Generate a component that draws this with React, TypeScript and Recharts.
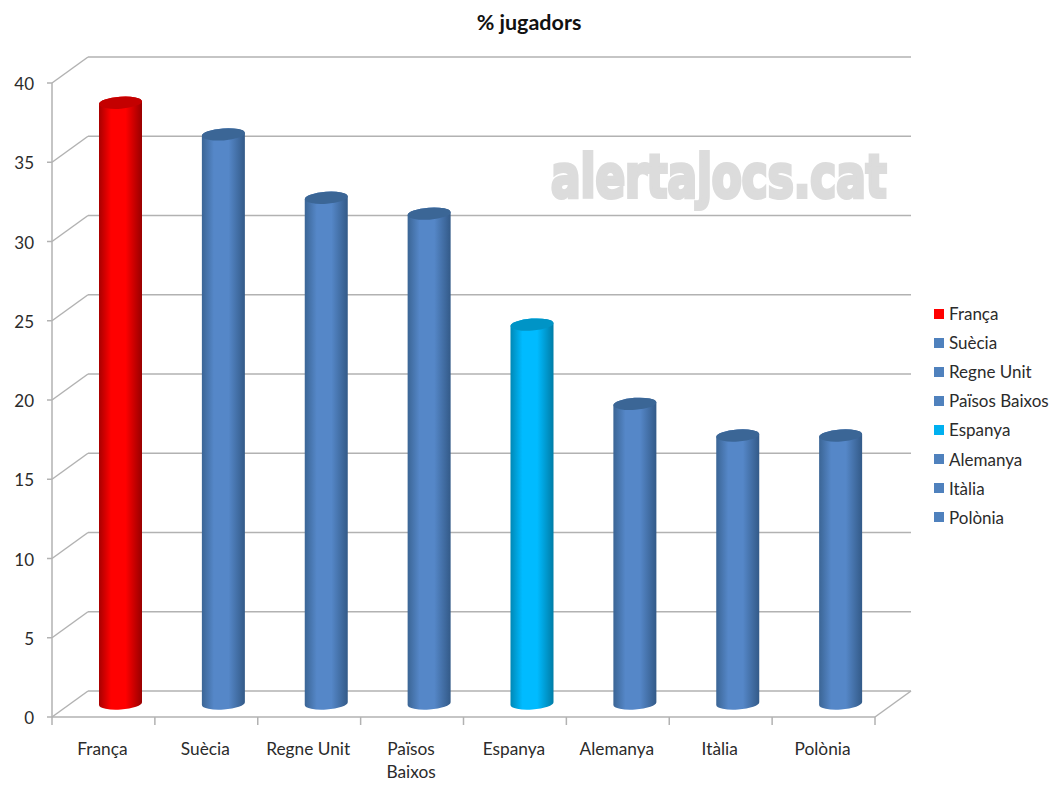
import { BarChart, Bar, XAxis, YAxis, CartesianGrid } from 'recharts'

const categories = ['França', 'Suècia', 'Regne Unit', 'Països Baixos', 'Espanya', 'Alemanya', 'Itàlia', 'Polònia']
const jugadors = [38, 36, 32, 31, 24, 19, 17, 17]
const yTicks = [0, 5, 10, 15, 20, 25, 30, 35, 40]

const chartData = categories.map((name, i) => ({ name, value: jugadors[i] }))

const WIDTH = 1060
const HEIGHT = 795
const PLOT_LEFT = 52
const PLOT_RIGHT = 875
const PLOT_TOP = 83
const PLOT_BOTTOM = 717
const BAND = (PLOT_RIGHT - PLOT_LEFT) / categories.length

// 3d look: back wall offset and bar offset from the front plane
const WALL_DX = 36
const WALL_DY = -26
const BAR_DX = 17
const BAR_DY = -12

const AXIS_COLOR = '#b2b2b2'
const TEXT_COLOR = '#2b2b2b'
const FONT = 'Lato, "Open Sans", sans-serif'

const PALETTES: Record<string, { edgeL: string; edgeR: string; mid: string; cap: string; swatch: string }> = {
  red: { edgeL: '#a80000', edgeR: '#980000', mid: '#ff0000', cap: '#c40000', swatch: '#ff0000' },
  blue: { edgeL: '#3b6595', edgeR: '#335a88', mid: '#5587c8', cap: '#3b6696', swatch: '#4f81bd' },
  cyan: { edgeL: '#0088b6', edgeR: '#007ca6', mid: '#00bbff', cap: '#0094c6', swatch: '#00b0f0' },
}

const paletteFor = (name: string) => {
  if (name === 'França') return 'red'
  if (name === 'Espanya') return 'cyan'
  return 'blue'
}

function CylinderBar(props: any) {
  const { x, y, width, height, index } = props
  const key = paletteFor(categories[index])
  const left = x + BAR_DX
  const right = left + width
  const top = y + BAR_DY
  const bottom = y + height + BAR_DY - 1.5
  const rx = width / 2
  const ry = 6
  const tilt = 1.5
  const body = `M${left},${bottom + tilt} L${left},${top + tilt} A${rx},${ry} -4 0 1 ${right},${top - tilt} L${right},${bottom - tilt} A${rx},${ry} -4 0 1 ${left},${bottom + tilt} Z`
  return (
    <g>
      <path d={body} fill={`url(#cyl-${key})`} />
      <ellipse cx={left + rx} cy={top} rx={rx} ry={ry} transform={`rotate(-4 ${left + rx} ${top})`} fill={PALETTES[key].cap} />
    </g>
  )
}

function GridLine(props: any) {
  const { x1, x2, y1 } = props
  return (
    <g>
      <line x1={x1} y1={y1} x2={x1 + WALL_DX} y2={y1 + WALL_DY} stroke={AXIS_COLOR} strokeWidth={1.5} />
      <line x1={x1 + WALL_DX} y1={y1 + WALL_DY} x2={x2 + WALL_DX} y2={y1 + WALL_DY} stroke={AXIS_COLOR} strokeWidth={1.5} />
      {y1 >= PLOT_BOTTOM - 1 && (
        <line x1={x2} y1={y1} x2={x2 + WALL_DX} y2={y1 + WALL_DY} stroke={AXIS_COLOR} strokeWidth={1.5} />
      )}
    </g>
  )
}

function CategoryTick(props: any) {
  const { x, y, payload, index } = props
  // Long names wrap on two lines like the original
  const lines = String(payload.value).length > 10 ? String(payload.value).split(' ') : [payload.value]
  const isLast = index === categories.length - 1
  return (
    <g>
      <line x1={x - BAND / 2} y1={PLOT_BOTTOM} x2={x - BAND / 2} y2={PLOT_BOTTOM + 8} stroke={AXIS_COLOR} strokeWidth={1.5} />
      {isLast && (
        <line x1={x + BAND / 2} y1={PLOT_BOTTOM} x2={x + BAND / 2} y2={PLOT_BOTTOM + 8} stroke={AXIS_COLOR} strokeWidth={1.5} />
      )}
      <text x={x - 1} y={y + 30} textAnchor="middle" fontSize={17.3} fontFamily={FONT} fill={TEXT_COLOR}>
        {lines.map((line: string, i: number) => (
          <tspan key={line} x={x - 1} dy={i === 0 ? 0 : 23}>
            {line}
          </tspan>
        ))}
      </text>
    </g>
  )
}

export default function App() {
  return (
    <div style={{ position: 'absolute', left: 0, top: 0, width: WIDTH, height: HEIGHT, background: '#fff', fontFamily: FONT }}>
      <div style={{ position: 'absolute', left: 0, width: WIDTH - 2, top: 9, textAlign: 'center', fontSize: 21.5, fontWeight: 700, color: '#111' }}>
        % jugadors
      </div>

      <BarChart
        width={WIDTH}
        height={HEIGHT}
        data={chartData}
        margin={{ top: PLOT_TOP, right: WIDTH - PLOT_RIGHT, left: 0, bottom: 0 }}
      >
        <CartesianGrid vertical={false} horizontal={(p: any) => <GridLine key={p.key ?? p.y1} {...p} />} />
        <XAxis
          dataKey="name"
          interval={0}
          height={HEIGHT - PLOT_BOTTOM}
          tickLine={false}
          axisLine={{ stroke: AXIS_COLOR, strokeWidth: 1.5 }}
          tick={<CategoryTick />}
        />
        <YAxis
          width={PLOT_LEFT}
          domain={[0, 40]}
          ticks={yTicks}
          interval={0}
          tickSize={5}
          tickMargin={13}
          tickLine={{ stroke: AXIS_COLOR, strokeWidth: 1.5 }}
          axisLine={{ stroke: AXIS_COLOR, strokeWidth: 1.5 }}
          tick={{ fontSize: 17, fontFamily: FONT, fill: TEXT_COLOR, dy: 1 }}
        />
        <defs>
          {Object.entries(PALETTES).map(([key, p]) => (
            <linearGradient key={key} id={`cyl-${key}`} x1="0" y1="0" x2="1" y2="0">
              <stop offset="0%" stopColor={p.edgeL} />
              <stop offset="28%" stopColor={p.mid} />
              <stop offset="62%" stopColor={p.mid} />
              <stop offset="100%" stopColor={p.edgeR} />
            </linearGradient>
          ))}
        </defs>
        <Bar dataKey="value" barSize={43} isAnimationActive={false} shape={<CylinderBar />} />
      </BarChart>

      {/* watermark */}
      <div
        style={{
          position: 'absolute',
          left: 551,
          top: 142,
          fontFamily: '"DejaVu Sans", sans-serif',
          fontWeight: 700,
          fontSize: 59,
          lineHeight: '70px',
          color: '#dcdcdc',
          WebkitTextStroke: '4px #dcdcdc',
          transform: 'scaleX(0.74)',
          transformOrigin: 'left top',
          whiteSpace: 'nowrap',
        }}
      >
        alertajocs.cat
      </div>

      {/* legend */}
      <div style={{ position: 'absolute', left: 934, top: 299 }}>
        {categories.map(name => (
          <div key={name} style={{ display: 'flex', alignItems: 'center', height: 29.1, fontSize: 17, color: TEXT_COLOR, whiteSpace: 'nowrap' }}>
            <span style={{ width: 10, height: 10, marginRight: 5, background: PALETTES[paletteFor(name)].swatch }} />
            {name}
          </div>
        ))}
      </div>
    </div>
  )
}
